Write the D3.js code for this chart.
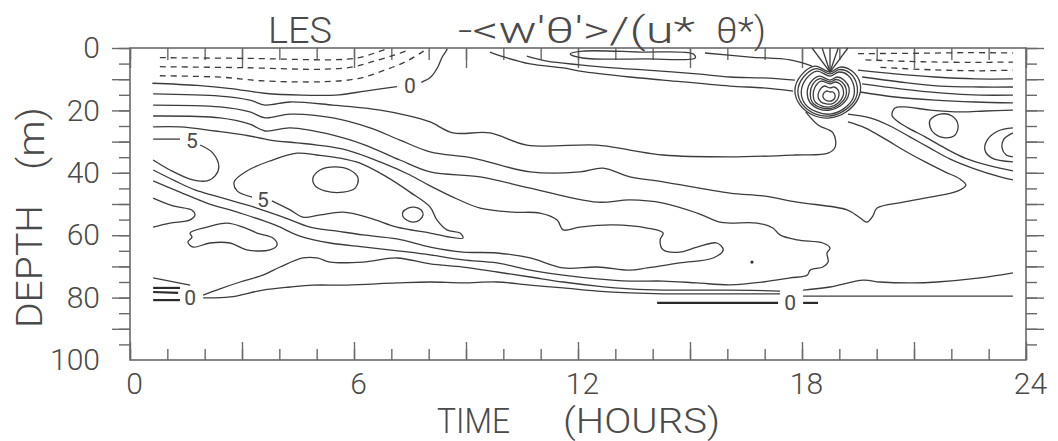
<!DOCTYPE html>
<html>
<head>
<meta charset="utf-8">
<script src="https://cdn.jsdelivr.net/npm/d3@7"></script>
<style>
  body { margin: 0; background: #fff; }
  text { font-family: Roboto, "DejaVu Sans", sans-serif; font-weight: 300; fill: #4a4a4a; }
</style>
</head>
<body>
<svg id="chart" width="1058" height="441"></svg>
<script>
// contour lines, points are [time (hours), depth (m)]
const dashLeft1 = [[0.8,3.1],[3.0,3.3],[5.8,3.6],[6.3,2.6],[6.7,1.0],[6.9,0.2]];
const dashLeft2 = [[0.8,6.0],[3.0,6.3],[5.2,6.8],[6.0,6.0],[6.6,4.0],[7.1,2.2],[7.5,0.5]];
const dashLeft3 = [[0.8,8.9],[2.5,9.4],[3.5,10.5],[5.2,10.8],[6.1,9.8],[6.8,7.2],[7.4,4.3],[7.8,1.5],[7.95,0.4]];
const dashRight1 = [[19.5,1.8],[21.0,1.7],[22.5,1.5],[23.65,1.6]];
const dashRight2 = [[19.7,3.8],[21.2,4.4],[22.6,4.6],[23.65,4.5]];
const dashRight3 = [[20.1,6.2],[21.5,7.0],[22.8,7.3],[23.65,7.1]];

const zeroTopA = [[0.6,11.3],[1.8,12.0],[2.7,13.0],[3.6,14.5],[4.6,15.1],[5.6,15.0],[6.3,13.8],[7.15,12.4]];
const zeroTopB = [[7.8,11.0],[8.05,9.4],[8.25,6.0],[8.35,3.2],[8.45,1.3],[8.5,0.3]];

const line1 = [[0.62,14.7],[2.41,15.4],[3.21,16.7],[3.62,18.3],[4.29,17.3],[5.44,18.3],[6.70,19.9],[7.50,21.8],[8.04,23.7],[8.65,27.2],[9.64,27.2],[10.63,31.1],[12.51,31.1],[13.39,32.7],[14.28,34.3],[16.07,34.9],[17.81,34.3],[18.70,33.7],[18.89,31.7],[18.83,27.2],[18.43,24.7],[18.1,20.5]];
const line2 = [[0.62,18.3],[2.41,18.9],[3.21,20.5],[3.62,22.4],[4.29,21.2],[5.44,22.4],[6.43,25.6],[7.23,29.5],[8.04,33.3],[9.19,35.3],[10.72,39.7],[12.05,39.7],[12.67,38.5],[13.39,41.3],[14.28,42.9],[16.07,46.5],[16.96,47.4],[17.87,49.4],[19.21,51.9],[19.56,54.5],[19.74,55.8],[19.90,53.8],[20.01,51.3],[20.71,49.4],[21.43,47.8],[22.18,45.8],[22.39,43.9],[22.23,42.0],[21.83,39.7],[21.30,36.5],[20.76,33.0],[20.23,29.2],[19.69,25.6],[19.23,23.7]];
const line3 = [[0.62,21.8],[2.41,22.4],[3.21,24.4],[3.62,26.6],[4.29,25.6],[5.44,27.9],[6.30,31.1],[7.23,35.9],[8.04,39.7],[9.38,41.3],[10.72,44.9],[12.51,49.4],[13.39,48.7],[14.28,49.7],[15.19,52.9],[15.80,55.8],[16.07,56.1],[16.80,56.1],[17.22,57.7],[17.41,59.9],[17.87,61.5],[18.56,62.5],[18.75,64.1],[18.67,65.7],[18.70,68.6],[18.56,70.2],[18.22,71.2],[18.14,72.8],[17.68,73.7],[16.96,75.0],[16.07,75.9],[15.19,75.3],[14.28,74.7],[13.39,74.7],[12.51,74.0],[11.60,72.8],[10.72,71.2],[9.83,68.9],[8.92,67.9],[8.04,66.3],[7.23,65.1],[6.30,63.8],[5.36,62.5],[4.55,60.3],[3.88,56.7],[2.95,52.9],[2.06,49.7],[1.34,46.2],[0.62,42.6]];
const line4 = [[0.62,25.3],[1.34,25.3],[2.28,26.6],[3.08,27.9],[3.75,29.5],[4.47,30.4],[5.01,31.1],[5.81,32.7],[6.70,36.5],[7.50,40.7],[8.04,44.2],[8.76,48.4],[9.38,51.3],[10.26,52.6],[10.98,52.9],[11.44,55.1],[11.60,58.3],[12.05,57.4],[12.94,56.7],[13.85,57.7],[14.28,59.3],[14.20,61.5],[14.28,64.7],[14.73,65.4],[15.19,63.8],[15.72,62.5],[15.89,64.7],[15.62,67.3],[14.73,68.9],[13.85,70.5],[13.39,71.2],[12.51,70.2],[11.60,70.5],[10.72,67.3],[9.83,65.7],[8.92,65.4],[8.04,63.8],[7.15,61.2],[6.24,59.9],[5.55,58.7],[4.82,57.4],[4.10,54.2],[3.40,51.3],[2.95,49.7],[2.28,47.4],[1.74,45.5],[1.21,42.6],[0.62,39.1]];

const fiveLeft = [[0.62,29.2],[1.34,29.2]];
const fiveRight = [[1.88,31.1],[2.22,33.7],[2.38,38.1],[2.28,41.0],[2.06,42.6],[1.61,42.0],[1.07,39.1],[0.62,35.9]];
const fiveLoop = [[3.80,49.0],[4.29,51.9],[4.63,54.2],[5.09,53.5],[5.71,52.6],[6.43,54.5],[7.15,57.4],[8.04,59.3],[8.57,60.6],[8.92,60.9],[8.84,59.3],[8.49,58.3],[8.22,55.1],[8.04,51.0],[7.50,46.2],[6.83,41.0],[6.16,36.9],[5.63,35.3],[5.01,34.3],[4.47,33.7],[3.75,36.2],[3.13,39.4],[2.79,42.9],[2.87,45.8],[3.27,47.8]];
const edgeLoop = [[0.62,48.1],[1.15,50.6],[1.66,52.0],[1.74,53.5],[1.61,55.1],[1.07,56.1],[0.62,57.4]];
const bigLoop = [[1.61,59.3],[2.06,57.4],[2.60,56.1],[3.03,57.4],[3.40,59.3],[3.83,60.9],[3.94,63.1],[3.75,64.7],[3.13,64.7],[2.68,62.5],[2.14,62.5],[1.69,63.8],[1.55,62.2],[1.66,60.6],[1.61,59.3]];
const oval6 = [[4.90,41.7],[5.09,39.1],[5.49,38.1],[5.89,39.1],[6.11,41.7],[6.03,44.9],[5.71,46.2],[5.22,45.8],[4.96,44.2],[4.90,41.7]];
const smallOval = [[7.31,52.6],[7.45,51.3],[7.62,51.0],[7.80,51.9],[7.85,53.5],[7.75,55.2],[7.58,55.8],[7.42,55.2],[7.31,54.0],[7.31,52.6]];

const zeroLowA = [[1.96,79.2],[2.41,77.2],[2.95,75.0],[3.56,72.8],[4.02,70.2],[4.63,67.3],[5.01,67.3],[5.36,68.6],[6.24,68.6],[7.15,67.3],[8.04,69.2],[8.92,70.2],[9.83,71.8],[10.72,73.4],[11.60,75.0],[12.51,76.3],[13.39,77.2],[14.28,77.6],[15.19,77.6],[16.07,77.6],[17.41,77.9]];
const zeroLowB = [[18.03,77.6],[18.75,76.6],[19.64,74.4],[20.09,75.0],[20.97,75.3],[21.62,75.0],[22.77,73.7],[23.65,72.1]];
const zeroBotA = [[1.96,80.1],[2.68,79.8],[3.56,77.6],[4.29,76.6],[4.90,76.0],[5.81,76.0],[7.15,75.3],[8.04,75.0],[8.92,75.3],[9.83,75.0],[10.72,76.0],[11.60,76.9],[12.51,77.9],[13.39,78.5],[14.28,78.8],[15.19,78.8],[16.07,78.8],[17.41,78.8]];
const zeroBotB = [[18.03,79.5],[20.63,79.5],[23.65,79.5]];
const deepA = [[14.12,81.7],[15.27,81.7],[17.36,81.7]];
const deepB = [[18.03,81.7],[18.43,81.7]];
const stub1 = [[0.62,73.7],[1.61,76.0]];
const stub2 = [[0.62,76.9],[1.34,76.9]];
const stub3 = [[0.62,78.2],[1.29,78.5]];
const stub4 = [[0.62,80.8],[1.34,80.8]];

const topLine1 = [[9.64,1.3],[10.10,3.2],[10.72,5.1],[11.60,6.4],[12.05,7.4],[13.39,9.3],[14.28,10.3],[16.07,12.2],[16.96,12.8],[17.76,13.8]];
const topLine2 = [[10.63,2.6],[11.17,4.2],[12.05,5.4],[12.94,6.4],[13.85,7.1],[15.19,8.3],[16.07,9.3],[16.96,9.6],[17.81,10.3]];
const topLine3 = [[15.40,1.6],[16.61,2.9],[17.68,3.8],[18.27,5.8]];
const topLoop = [[11.79,1.9],[12.13,1.0],[13.66,1.3],[15.08,1.9],[15.14,3.2],[13.80,3.5],[12.13,3.2],[11.79,1.9]];
const spike1 = [[18.27,0],[18.75,7.7]];
const spike2 = [[18.54,0],[18.75,7.7]];
const spike3 = [[18.97,0],[18.75,7.7]];
const spike4 = [[19.23,0],[18.75,7.7]];
const spike5 = [[18.75,0],[18.75,7.7]];

const heart1 = [[18.75,7.7],[18.35,5.8],[17.98,8.7],[17.81,13.5],[17.95,18.3],[18.35,21.8],[18.75,22.4],[19.18,20.5],[19.50,16.3],[19.56,11.5],[19.34,7.4],[19.02,6.1],[18.75,7.7]];
const heart1b = [[18.75,8.3],[18.38,6.6],[18.04,9.3],[17.89,13.8],[18.01,18.1],[18.37,21.2],[18.75,21.8],[19.14,20.0],[19.44,16.1],[19.47,11.8],[19.28,8.0],[19.0,6.9],[18.75,8.3]];
const heart2 = [[18.75,9.0],[18.40,7.4],[18.11,9.9],[17.98,14.1],[18.08,17.9],[18.40,20.5],[18.75,21.2],[19.10,19.6],[19.37,16.0],[19.39,12.2],[19.23,8.7],[18.99,7.7],[18.75,9.0]];
const heart3 = [[18.75,10.3],[18.46,9.0],[18.22,11.2],[18.14,14.7],[18.22,17.6],[18.46,19.6],[18.75,19.9],[19.02,18.6],[19.23,15.7],[19.26,12.8],[19.13,10.3],[18.94,9.3],[18.75,10.3]];
const heart3b = [[18.75,10.9],[18.48,9.8],[18.28,11.8],[18.22,14.9],[18.28,17.5],[18.5,19.1],[18.75,19.4],[19.0,18.1],[19.17,15.6],[19.18,13.0],[19.07,10.9],[18.91,10.1],[18.75,10.9]];
const heart4 = [[18.75,11.5],[18.51,10.6],[18.35,12.5],[18.30,15.1],[18.35,17.3],[18.54,18.6],[18.75,18.9],[18.97,17.6],[19.10,15.4],[19.10,13.1],[19.02,11.5],[18.89,10.9],[18.75,11.5]];
const heart5 = [[18.75,12.8],[18.59,12.2],[18.46,13.8],[18.43,15.7],[18.51,17.3],[18.65,17.9],[18.80,17.9],[18.94,16.7],[18.99,15.1],[18.97,13.5],[18.86,12.5],[18.75,12.8]];
const heart6 = [[18.75,14.1],[18.65,13.8],[18.56,15.1],[18.59,16.3],[18.70,17.0],[18.83,16.7],[18.89,15.4],[18.83,14.1],[18.75,14.1]];

const rightLine1 = [[19.50,7.1],[20.49,8.3],[21.56,9.3],[22.64,9.9],[23.65,9.9]];
const rightLine2 = [[19.61,9.3],[20.63,10.9],[21.70,12.2],[22.77,12.5],[23.65,12.5]];
const rightLine3 = [[19.61,11.5],[20.63,13.1],[21.70,14.4],[22.77,15.1],[23.65,15.1]];
const rightLine4 = [[19.56,14.1],[20.49,15.7],[21.56,16.7],[22.64,17.3],[23.65,17.6]];
const rightTongue = [[23.65,19.9],[22.90,20.2],[22.26,20.5],[21.43,19.9],[20.76,18.9],[20.49,19.2],[20.41,21.5],[20.55,23.4],[20.84,25.6],[21.30,28.5],[21.83,32.1],[22.37,35.3],[23.04,37.8],[23.65,39.4]];
const rightDiag = [[19.23,21.2],[19.82,22.4],[20.36,25.0],[20.89,28.5],[21.43,32.1],[21.97,35.6],[22.64,38.8],[23.31,41.3],[23.65,42.3]];
const rightOval = [[21.43,23.1],[21.70,21.2],[22.02,21.8],[22.18,24.7],[22.10,27.9],[21.83,28.8],[21.56,27.6],[21.43,25.3],[21.43,23.1]];
const edgeArcOuter = [[23.65,25.6],[23.25,26.6],[22.96,29.5],[22.90,32.7],[23.09,35.3],[23.65,36.5]];
const edgeArcInner = [[23.65,27.2],[23.41,29.2],[23.36,32.1],[23.47,34.3],[23.65,34.9]];
const dot = [16.66,68.6];

// contour labels
const labelTimes = [7.5, 1.66, 3.56, 1.61, 17.68];
const labelDepths = [11.9, 29.5, 48.4, 80.1, 81.4];
const labelTexts = ["0", "5", "5", "0", "0"];

// axes
const hourLabels = [0, 6, 12, 18, 24];
const depthLabels = [0, 20, 40, 60, 80, 100];

const dashedLines = [dashLeft1, dashLeft2, dashLeft3, dashRight1, dashRight2, dashRight3];
const solidLines = [zeroTopA, zeroTopB, line1, line2, line3, line4, fiveLeft, fiveRight, fiveLoop,
  edgeLoop, bigLoop, oval6, smallOval, zeroLowA, zeroLowB, zeroBotA, zeroBotB, stub1,
  topLine1, topLine2, topLine3, topLoop, spike1, spike2, spike3, spike4, spike5,
  heart1, heart1b, heart2, heart3, heart3b, heart4, heart5, heart6,
  rightLine1, rightLine2, rightLine3, rightLine4, rightTongue, rightDiag, rightOval,
  edgeArcOuter, edgeArcInner];
const heavyLines = [deepA, deepB, stub2, stub3, stub4];

const svg = d3.select("#chart");
const x = d3.scaleLinear().domain([0, 24]).range([130, 1026]);
const y = d3.scaleLinear().domain([0, 100]).range([48, 360]);

const lineGen = d3.line().x(d => x(d[0])).y(d => y(d[1]));
function pathFor(pts) {
  const n = pts.length;
  const closed = n > 3 && pts[0][0] === pts[n-1][0] && pts[0][1] === pts[n-1][1];
  if (closed) return lineGen.curve(d3.curveCatmullRomClosed.alpha(0.5))(pts.slice(0, -1));
  return lineGen.curve(d3.curveCatmullRom.alpha(0.5))(pts);
}

// ticks
const axisColor = "#6a6a6a";
function styleAxis(g) {
  g.select(".domain").remove();
  g.selectAll(".tick line").attr("stroke", axisColor).attr("stroke-width", 1.4);
}
const hoursMinor = d3.range(0, 25, 1), hoursMajor = d3.range(0, 25, 3);
const depthMinor = d3.range(0, 100, 5), depthMajor = d3.range(0, 100, 10);

svg.append("g").attr("transform", `translate(0,${y(100)})`)
  .call(d3.axisBottom(x).tickValues(hoursMinor).tickSize(-11).tickFormat("")).call(styleAxis);
svg.append("g").attr("transform", `translate(0,${y(100)})`)
  .call(d3.axisBottom(x).tickValues(hoursMajor).tickSize(-18).tickFormat("")).call(styleAxis);
svg.append("g").attr("transform", `translate(0,${y(0)})`)
  .call(d3.axisTop(x).tickValues(hoursMinor).tickSize(-12).tickFormat("")).call(styleAxis);
svg.append("g").attr("transform", `translate(0,${y(0)})`)
  .call(d3.axisTop(x).tickValues(hoursMajor).tickSize(-20).tickFormat("")).call(styleAxis);
svg.append("g").attr("transform", `translate(${x(0)},0)`)
  .call(d3.axisLeft(y).tickValues(depthMinor).tickSize(11).tickFormat("")).call(styleAxis);
svg.append("g").attr("transform", `translate(${x(0)},0)`)
  .call(d3.axisLeft(y).tickValues(depthMajor).tickSize(18).tickFormat("")).call(styleAxis);
svg.append("g").attr("transform", `translate(${x(24)},0)`)
  .call(d3.axisRight(y).tickValues(depthMinor).tickSize(11).tickFormat("")).call(styleAxis);
svg.append("g").attr("transform", `translate(${x(24)},0)`)
  .call(d3.axisRight(y).tickValues(depthMajor).tickSize(18).tickFormat("")).call(styleAxis);

svg.append("rect")
  .attr("x", x(0)).attr("y", y(0))
  .attr("width", x(24) - x(0)).attr("height", y(100) - y(0))
  .attr("fill", "none").attr("stroke", axisColor).attr("stroke-width", 1.6);

// tick labels
const bottomLabels = svg.append("g").attr("transform", `translate(0,${y(100)})`)
  .call(d3.axisBottom(x).tickValues(hourLabels).tickSize(0).tickPadding(13));
bottomLabels.select(".domain").remove();
bottomLabels.selectAll("text").attr("font-size", 30).attr("dx", 4)
  .style("font-family", "Roboto, sans-serif").attr("fill", "#4a4a4a");

const leftLabels = svg.append("g").attr("transform", `translate(${x(0)},0)`)
  .call(d3.axisLeft(y).tickValues(depthLabels).tickSize(0).tickPadding(30));
leftLabels.select(".domain").remove();
leftLabels.selectAll("text").attr("font-size", 30)
  .style("font-family", "Roboto, sans-serif").attr("fill", "#4a4a4a");

// contours
const plot = svg.append("g");
plot.selectAll("path.neg").data(dashedLines).join("path")
  .attr("class", "neg").attr("d", pathFor)
  .attr("fill", "none").attr("stroke", "#3c3c3c").attr("stroke-width", 1.3)
  .attr("stroke-dasharray", "6,5");
plot.selectAll("path.pos").data(solidLines).join("path")
  .attr("class", "pos").attr("d", pathFor)
  .attr("fill", "none").attr("stroke", "#3c3c3c").attr("stroke-width", 1.3);
plot.selectAll("path.heavy").data(heavyLines).join("path")
  .attr("class", "heavy").attr("d", pathFor)
  .attr("fill", "none").attr("stroke", "#2a2a2a").attr("stroke-width", 2.2);
plot.append("circle").attr("cx", x(dot[0])).attr("cy", y(dot[1])).attr("r", 1.6).attr("fill", "#333");

plot.selectAll("text.clabel").data(labelTexts).join("text")
  .attr("class", "clabel")
  .attr("x", (d, i) => x(labelTimes[i]))
  .attr("y", (d, i) => y(labelDepths[i]))
  .attr("text-anchor", "middle").attr("dy", "0.36em")
  .attr("font-size", 21).style("font-weight", 400).attr("fill", "#333")
  .text(d => d);

// titles
svg.append("text").attr("x", 268).attr("y", 43).attr("font-size", 36)
  .attr("textLength", 64).attr("lengthAdjust", "spacingAndGlyphs").text("LES");
svg.append("text").attr("x", 458).attr("y", 43).attr("font-size", 36)
  .attr("textLength", 237).attr("lengthAdjust", "spacingAndGlyphs").text("-<w'θ'>/(u*");
svg.append("text").attr("x", 716).attr("y", 43).attr("font-size", 36)
  .attr("textLength", 50).attr("lengthAdjust", "spacingAndGlyphs").text("θ*)");

svg.append("text").attr("x", 437).attr("y", 433).attr("font-size", 35)
  .attr("textLength", 73).attr("lengthAdjust", "spacingAndGlyphs").text("TIME");
svg.append("text").attr("x", 563).attr("y", 433).attr("font-size", 35)
  .attr("textLength", 157).attr("lengthAdjust", "spacingAndGlyphs").text("(HOURS)");

svg.append("text").attr("transform", "translate(42,328) rotate(-90)").attr("font-size", 36)
  .attr("textLength", 123).attr("lengthAdjust", "spacingAndGlyphs").text("DEPTH");
svg.append("text").attr("transform", "translate(44,170) rotate(-90)").attr("font-size", 36)
  .attr("textLength", 63).attr("lengthAdjust", "spacingAndGlyphs").text("(m)");
</script>
</body>
</html>
